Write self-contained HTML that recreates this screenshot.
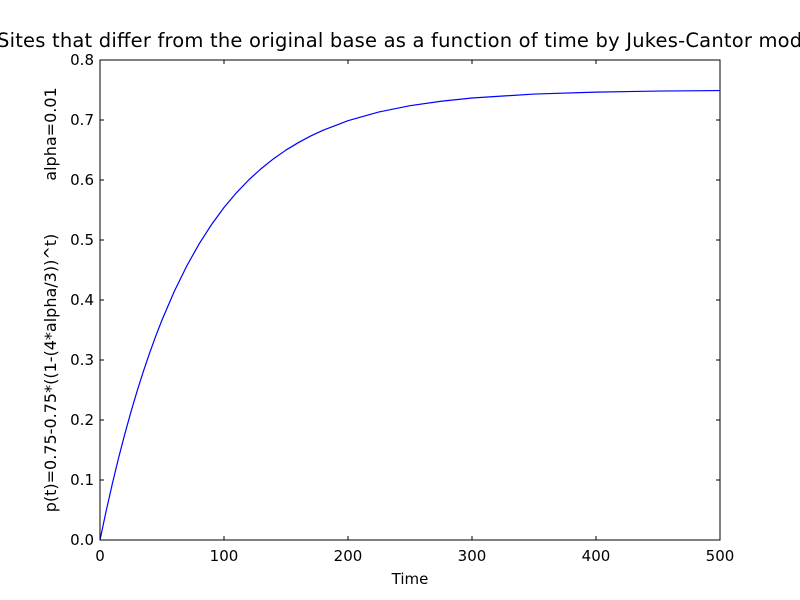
<!DOCTYPE html>
<html><head><meta charset="utf-8"><style>
html,body{margin:0;padding:0;background:#fff;}
svg{display:block;font-family:"DejaVu Sans","Liberation Sans",sans-serif;}
</style></head><body>
<svg id="chart" width="800" height="600">
<rect width="800" height="600" fill="#fff"/>
<text x="-3" y="47" font-size="19.5" text-anchor="start" textLength="823" lengthAdjust="spacing">Sites that differ from the original base as a function of time by Jukes-Cantor model</text>
<text x="410" y="584" font-size="15" text-anchor="middle">Time</text>
<text transform="translate(56,134) rotate(-90)" font-size="16" text-anchor="middle">alpha=0.01</text>
<text transform="translate(56,373) rotate(-90)" font-size="16" text-anchor="middle">p(t)=0.75-0.75*((1-(4*alpha/3))^t)</text>
<g id="ticks"></g>
<polyline id="curve" fill="none" stroke="#0000ff" stroke-width="1.2" stroke-linejoin="round"/>
<rect x="100" y="60" width="620" height="480" fill="none" stroke="#000" stroke-width="1"/>
</svg>
<script>
const times = [0,5,10,15,20,25,30,35,40,45,50,60,70,80,90,100,110,120,130,140,150,160,170,180,200,225,250,275,300,350,400,450,500];
const probs = [0,0.0487,0.0942,0.1368,0.1766,0.2138,0.2486,0.2812,0.3116,0.3401,0.3667,0.4148,0.4569,0.4937,0.5259,0.5541,0.5787,0.6002,0.6190,0.6355,0.6499,0.6624,0.6734,0.6830,0.6988,0.7134,0.7239,0.7313,0.7367,0.7432,0.7465,0.7482,0.7491];
const xTicks = [0,100,200,300,400,500];
const yTicks = [0.0,0.1,0.2,0.3,0.4,0.5,0.6,0.7,0.8];
const yTickLabels = ["0.0","0.1","0.2","0.3","0.4","0.5","0.6","0.7","0.8"];
const X0=100,X1=720,Y0=540,Y1=60;
function sx(v){return X0+(v-0)/(500-0)*(X1-X0);}
function sy(v){return Y0-(v-0)/(0.8-0)*(Y0-Y1);}
const NS="http://www.w3.org/2000/svg";
const g=document.getElementById('ticks');
function mk(tag,attrs){const e=document.createElementNS(NS,tag);for(const k in attrs)e.setAttribute(k,attrs[k]);return e;}
xTicks.forEach(t=>{
  const x=sx(t);
  const a=mk('line',{x1:x,x2:x,y1:Y0,y2:Y0-4,stroke:'#000'});
  
  
  g.appendChild(a);
  const b=mk('line',{x1:x,x2:x,y1:Y1,y2:Y1+4,stroke:'#000'});
  
  
  g.appendChild(b);
  const l=mk('text',{x:x,y:Y0+21,'font-size':15,'text-anchor':'middle'});
  l.textContent=String(t);
  
  
  g.appendChild(l);
});
yTicks.forEach((t,i)=>{
  const y=sy(t);
  const a=mk('line',{x1:X0,x2:X0+4,y1:y,y2:y,stroke:'#000'});
  
  
  g.appendChild(a);
  const b=mk('line',{x1:X1,x2:X1-4,y1:y,y2:y,stroke:'#000'});
  
  
  g.appendChild(b);
  const l=mk('text',{x:X0-6,y:y+5,'font-size':15,'text-anchor':'end'});
  l.textContent=yTickLabels[i];
  
  
  g.appendChild(l);
});
document.getElementById('curve').setAttribute('points',times.map((t,i)=>sx(t)+','+sy(probs[i])).join(' '));
</script>
</body></html>
